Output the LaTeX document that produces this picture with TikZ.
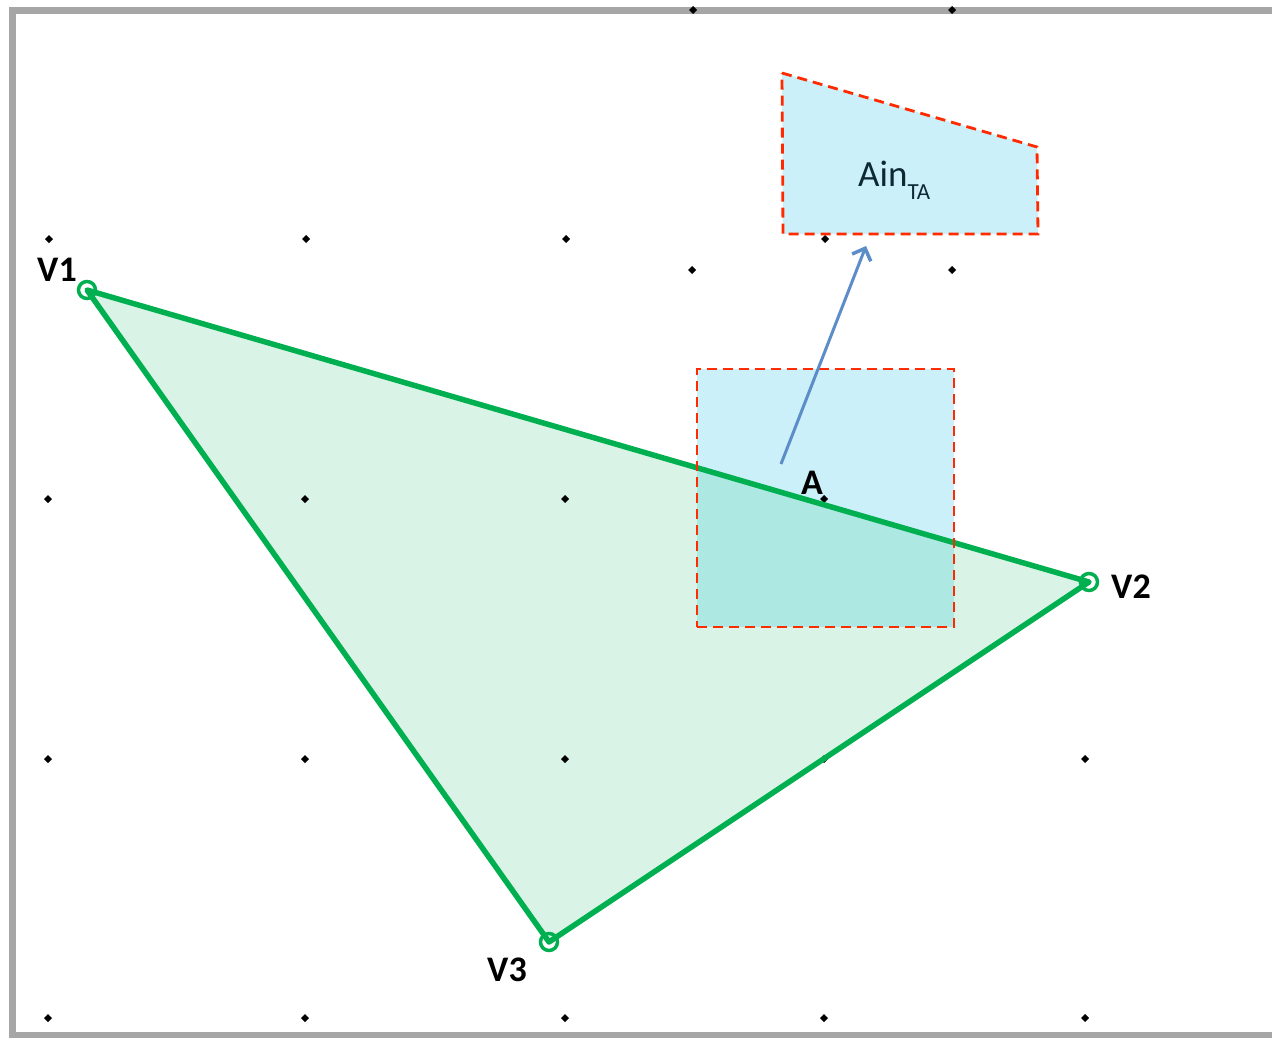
\documentclass[tikz,border=0pt]{standalone}
\usepackage{fontspec}
\setmainfont{Carlito}
\usetikzlibrary{arrows.meta}
\definecolor{tgreen}{HTML}{00B050}
\definecolor{tfill}{HTML}{D9F3E6}
\definecolor{bfill}{HTML}{CCF0F9}
\definecolor{ofill}{HTML}{ADE8E3}
\definecolor{rdash}{HTML}{FF2A00}
\definecolor{arrblue}{HTML}{5B8DC9}
\definecolor{frame}{HTML}{A6A6A6}
\definecolor{aintext}{HTML}{0D2A33}
\begin{document}
\begin{tikzpicture}[x=1pt,y=-1pt,
  vtx/.style={circle,draw=tgreen,line width=3.5pt,minimum size=17pt,inner sep=0pt},
  vlabel/.style={font=\fontsize{36}{38}\selectfont\bfseries,text=black,inner sep=0pt},
  redbox/.style={draw=rdash,line width=2.8pt,dash pattern=on 10pt off 6pt},
  edge/.style={draw=tgreen,line width=5.5pt}]
\useasboundingbox (0,0) rectangle (1272,1038);
\fill[white] (0,0) rectangle (1272,1038);
\draw[frame,line width=7pt] (1290,11) -- (12.5,11) -- (12.5,1035.5) -- (1290,1035.5);
% vertices
\coordinate (P1) at (87,290);
\coordinate (P2) at (1089,582);
\coordinate (P3) at (549,942);
% triangle fill
\fill[tfill] (P1) -- (P2) -- (P3) -- cycle;
% box fill
\fill[bfill] (697,369) rectangle (954,627);
\begin{scope}
\clip (P1) -- (P2) -- (P3) -- cycle;
\fill[ofill] (697,369) rectangle (954,627);
\end{scope}
% Ain polygon
\coordinate (Q1) at (782,73);
\coordinate (Q2) at (1037,147);
\coordinate (Q3) at (1038,234);
\coordinate (Q4) at (783,234);
\fill[bfill] (Q1) -- (Q2) -- (Q3) -- (Q4) -- cycle;
% grid dots
\foreach \x/\y in {693/10,952/10,49/239,306/239,566/239,825/239,692/270,952/270,
  48/499,305/499,565/499,824/499,
  48/759,305/759,565/759,824/759,1085/759,
  48/1018,305/1018,565/1018,824/1018,1085/1018}{
  \fill[black] (\x,\y-4) -- (\x+4,\y) -- (\x,\y+4) -- (\x-4,\y) -- cycle;
}
% triangle edges
\node[vtx] (V1) at (P1) {};
\node[vtx] (V2) at (P2) {};
\node[vtx] (V3) at (P3) {};
\draw[edge,line join=round] (V1.center) -- (V2.center) -- (V3.center) -- cycle;
% red dashed outlines
\node[redbox,minimum width=257pt,minimum height=258pt,inner sep=0pt] (box) at (825.5,498) {};
\draw[redbox] (Q1) -- (Q2) -- (Q3) -- (Q4) -- cycle;
% labels
\node[vlabel] (L1) at (57,270) {V1};
\node[vlabel] (L2) at (1131,587) {V2};
\node[vlabel] (L3) at (507,970) {V3};
\node[vlabel] (LA) at (812,483) {A};
\node[text=aintext,font=\fontsize{37}{39}\selectfont,inner sep=0pt,anchor=base west] (ain) at (858,186) {Ain\raisebox{-13pt}{\fontsize{23}{25}\selectfont TA}};
% arrow
\coordinate (As) at (781,464);
\coordinate (Ae) at (866,246);
\draw[arrblue,line width=3pt,-{Straight Barb[length=10pt,width=20pt,line width=3.5pt]}] (As) -- (Ae);
\end{tikzpicture}
\end{document}
